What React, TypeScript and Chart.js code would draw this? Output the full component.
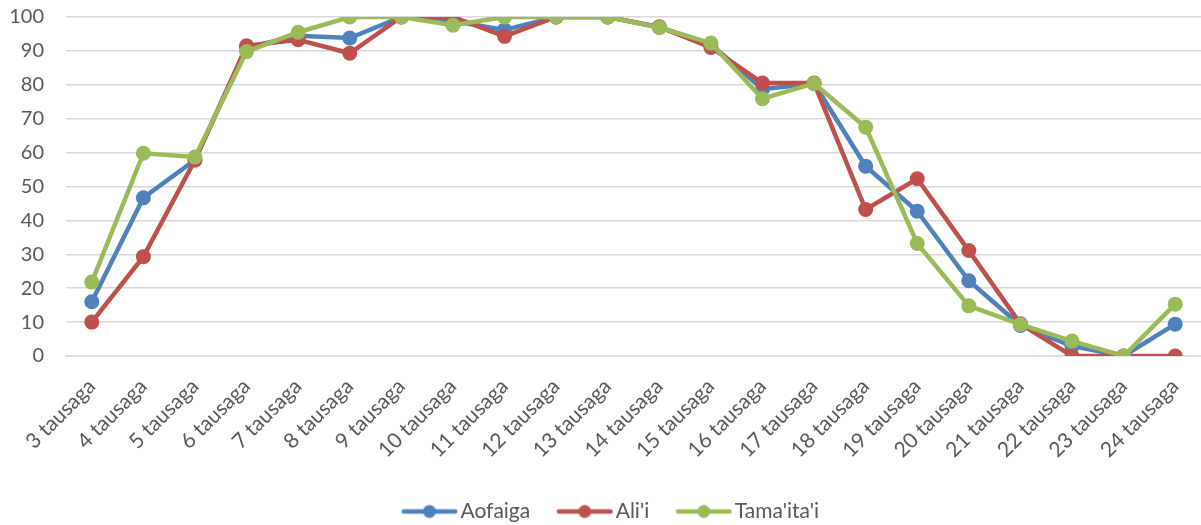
import React, { useEffect, useRef } from "react";
import { Chart, registerables } from "chart.js";

Chart.register(...registerables);

const categories = [
  "3 tausaga", "4 tausaga", "5 tausaga", "6 tausaga", "7 tausaga", "8 tausaga",
  "9 tausaga", "10 tausaga", "11 tausaga", "12 tausaga", "13 tausaga", "14 tausaga",
  "15 tausaga", "16 tausaga", "17 tausaga", "18 tausaga", "19 tausaga", "20 tausaga",
  "21 tausaga", "22 tausaga", "23 tausaga", "24 tausaga",
];

const aofaiga = [16, 46.7, 57.8, 91, 94.5, 93.8, 100, 98.8, 96.2, 100, 100, 97, 92, 78.7, 80.4, 56, 42.7, 22.2, 9, 2.9, 0, 9.4];
const alii = [10, 29.3, 57.8, 91.5, 93.3, 89.3, 100, 100, 94.3, 100, 100, 97.1, 91, 80.5, 80.5, 43.2, 52.3, 31.1, 9.5, 0, 0, 0];
const tamaitai = [21.8, 59.8, 58.7, 89.8, 95.5, 100, 100, 97.6, 100, 100, 100, 96.9, 92.3, 75.9, 80.4, 67.5, 33.2, 14.8, 9.3, 4.4, 0, 15.3];

const seriesNames = ["Aofaiga", "Ali'i", "Tama'ita'i"];
const seriesColors = ["#4F81BD", "#C0504D", "#9BBB59"];

const FONT = "Lato, 'Open Sans', sans-serif";
const TEXT = "#595959";
const LEG_FS = 21;
const LEG_PAD = 3;
const BOX_W = 72;
const LINE_LEN = 56;

function makeLegendIcon(color: string) {
  const lineEnd = BOX_W + LEG_FS / 2 - 3;
  const lineStart = lineEnd - LINE_LEN;
  const half = Math.max(BOX_W / 2 - lineStart, lineEnd - BOX_W / 2) + 2;
  const off = half - BOX_W / 2;
  const c = document.createElement("canvas");
  c.width = Math.ceil(half * 2);
  c.height = 16;
  const ctx = c.getContext("2d")!;
  ctx.strokeStyle = color;
  ctx.lineWidth = 4.5;
  ctx.lineCap = "round";
  ctx.beginPath();
  ctx.moveTo(lineStart + off + 2.25, 8);
  ctx.lineTo(lineEnd + off - 2.25, 8);
  ctx.stroke();
  ctx.fillStyle = color;
  ctx.beginPath();
  ctx.arc((lineStart + lineEnd) / 2 + off, 8, 6.5, 0, Math.PI * 2);
  ctx.fill();
  return c;
}

const legendShift = {
  id: "legendShift",
  afterLayout(chart: any) {
    const lg = chart.legend;
    if (lg) {
      lg.left -= 7;
      lg.right -= 7;
      lg.top += 8;
      lg.bottom += 8;
    }
  },
};

export default function App() {
  const ref = useRef<HTMLCanvasElement>(null);

  useEffect(() => {
    document.body.style.margin = "0";
    const data = [aofaiga, alii, tamaitai];
    const icons = seriesColors.map(makeLegendIcon);
    const chart = new Chart(ref.current!, {
      type: "line",
      data: {
        labels: categories,
        datasets: seriesNames.map((name, i) => ({
          label: name,
          data: data[i],
          order: seriesNames.length - 1 - i,
          borderColor: seriesColors[i],
          backgroundColor: seriesColors[i],
          borderWidth: 4.5,
          pointRadius: 7.5,
          pointHoverRadius: 7.5,
          pointBorderWidth: 0,
          tension: 0,
        })),
      },
      plugins: [legendShift],
      options: {
        animation: false,
        responsive: false,
        layout: { autoPadding: false, padding: { left: 10, right: 0, top: 17, bottom: 1 } },
        plugins: {
          tooltip: { enabled: false },
          legend: {
            position: "bottom",
            labels: {
              usePointStyle: true,
              pointStyleWidth: BOX_W,
              padding: LEG_PAD,
              color: TEXT,
              font: { family: FONT, size: LEG_FS },
              generateLabels: (ch: any) => {
                const items = Chart.defaults.plugins.legend.labels.generateLabels(ch);
                items.sort((a: any, b: any) => a.datasetIndex - b.datasetIndex);
                items.forEach((it: any) => {
                  it.pointStyle = icons[it.datasetIndex];
                });
                return items;
              },
            },
          },
        },
        scales: {
          x: {
            offset: true,
            grid: { display: false },
            border: { display: true, color: "#D9D9D9", width: 1.5 },
            ticks: {
              color: TEXT,
              font: { family: FONT, size: 21 },
              maxRotation: 45,
              minRotation: 45,
              padding: 10,
            },
            afterFit: (s: any) => {
              s.paddingLeft = 0;
              s.paddingRight = 0;
              s.height = 134;
            },
          },
          y: {
            min: 0,
            max: 100,
            border: { display: false },
            grid: { color: "#D9D9D9", lineWidth: 1.5, drawTicks: false },
            ticks: {
              stepSize: 10,
              color: TEXT,
              font: { family: FONT, size: 20 },
              padding: 22,
            },
            afterFit: (s: any) => {
              s.paddingTop = 0;
              s.paddingBottom = 0;
              s.width = 56;
            },
          },
        },
      },
    });
    return () => chart.destroy();
  }, []);

  return (
    <div style={{ width: 1201, height: 525 }}>
      <canvas ref={ref} width={1201} height={525} style={{ display: "block" }} />
    </div>
  );
}
